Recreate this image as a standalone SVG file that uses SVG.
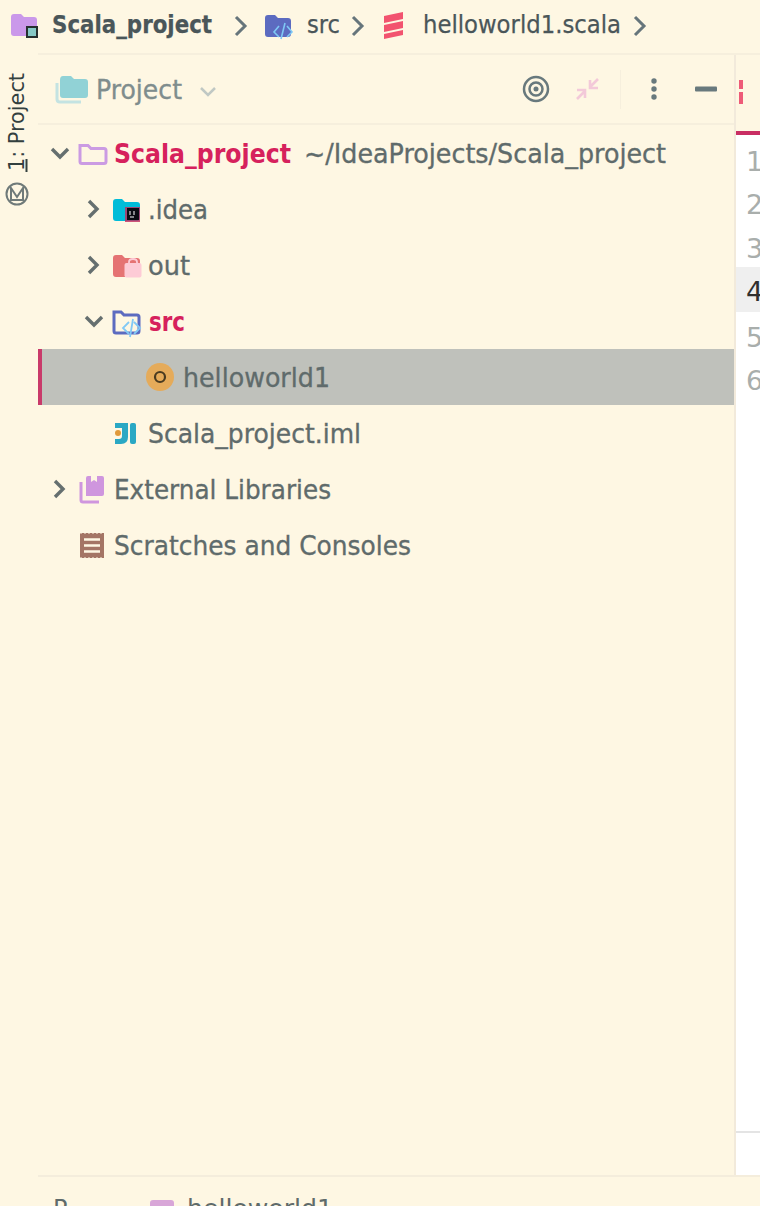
<svg xmlns="http://www.w3.org/2000/svg" width="760" height="1206" viewBox="0 0 760 1206">
<style>
text{font-family:"DejaVu Sans","Open Sans",sans-serif;white-space:pre}
.t{font-size:27px;fill:#5f6b6b;stroke:#5f6b6b;stroke-width:.35}
.b{font-size:24px;fill:#4a5659;stroke:#4a5659;stroke-width:.25}
.r{font-size:27px;fill:#d6215c;font-weight:700}
.ln{font-size:27px;fill:#a9aeac}
.c{fill:none;stroke:#656f6f;stroke-width:3.4}
.bc{fill:none;stroke:#66757b;stroke-width:3}
</style>
<rect width="760" height="1206" fill="#fef7e3"/>
<g id="editor">
<rect x="735" y="54" width="25" height="1122" fill="#fef7e3"/>
<rect x="736" y="134" width="24" height="1042" fill="#ffffff"/>
<rect x="736" y="267" width="24" height="45" fill="#efefef"/>
<rect x="736" y="131" width="24" height="4" fill="#c92e63"/>
<rect x="736" y="1131" width="24" height="2" fill="#e4e4e4"/>
<rect x="734" y="54" width="2" height="1122" fill="#f2eadb"/>
<rect x="739" y="80" width="4" height="9" fill="#ee5b78"/><rect x="739" y="92" width="4" height="12" fill="#ee5b78"/>
<text class="ln" x="746" y="171">1</text><text class="ln" x="746" y="214">2</text><text class="ln" x="746" y="258">3</text><text x="746" y="301" style="font-size:27px;fill:#2f2f2f">4</text><text class="ln" x="746" y="347">5</text><text class="ln" x="746" y="390">6</text>
</g>
<g id="dividers">
<rect x="38" y="53" width="722" height="2" fill="#f6efdd"/>
<rect x="38" y="123" width="696" height="2" fill="#f6efdd"/>
<rect x="38" y="1175" width="722" height="2" fill="#f4eddc"/>
<rect x="620" y="70" width="1" height="39" fill="#f6efdd"/>
</g>
<g id="breadcrumb">
<path d="M11 17q0-3 3-3h7l3 3h10q3 0 3 3v13q0 3-3 3H14q-3 0-3-3z" fill="#c792ea" opacity=".95"/>
<rect x="27" y="27" width="10" height="10" fill="#86c9c6" stroke="#26302f" stroke-width="2"/>
<text class="b" x="52" y="33" font-weight="700" textLength="160" lengthAdjust="spacingAndGlyphs">Scala_project</text>
<path class="bc" d="M236 17l9 9-9 9"/>
<path d="M265 18q0-3 3-3h7l3 3h10q3 0 3 3v13q0 3-3 3h-20q-3 0-3-3z" fill="#5c6bc0"/>
<path d="M279 26l-5 6 5 5M287 26l5 6-5 5M285 23l-4 16" fill="none" stroke="#7ec8f5" stroke-width="1.600"/>
<text class="b" x="307" y="33" textLength="33" lengthAdjust="spacingAndGlyphs">src</text>
<path class="bc" d="M353 17l9 9-9 9"/>
<path d="M384 16l19-4v7l-19 4zM384 25l19-4v7l-19 4zM384 34l19-4v5l-19 4z" fill="#f2536f"/>
<text class="b" x="423" y="33" textLength="198" lengthAdjust="spacingAndGlyphs">helloworld1.scala</text>
<path class="bc" d="M635 17l9 9-9 9"/>
</g>
<g id="sidebar-tab">
<text x="24" y="171" transform="rotate(-90 24 171)" style="font-size:21px;fill:#33403f" textLength="98" lengthAdjust="spacingAndGlyphs">1: Project</text>
<rect x="25.500" y="159" width="2" height="13" fill="#33403f"/>
<circle cx="17" cy="194" r="10.500" fill="none" stroke="#6f7a79" stroke-width="2"/>
<path d="M11 200v-12l6 9 6-9v12M10 200h14" fill="none" stroke="#6f7a79" stroke-width="2"/>
</g>
<g id="project-header">
<path d="M57 83v16q0 3 3 3h21" fill="none" stroke="#c4e3e2" stroke-width="3"/>
<path d="M60 80q0-4 3-4h8l3 3h11q3 0 3 3v13q0 3-3 3H63q-3 0-3-3z" fill="#91d2d6"/>
<text x="96" y="99" style="font-size:27px;fill:#7f8d8d;stroke:#7f8d8d;stroke-width:.35" textLength="86" lengthAdjust="spacingAndGlyphs">Project</text>
<path d="M201 88l7 7 7-7" fill="none" stroke="#c0c8c4" stroke-width="2.500"/>
<circle cx="536" cy="89" r="12" fill="none" stroke="#68797d" stroke-width="2.500"/>
<circle cx="536" cy="89" r="6.500" fill="none" stroke="#68797d" stroke-width="2.500"/>
<circle cx="536" cy="89" r="2.500" fill="#68797d"/>
<path d="M598 79l-8 8M590 80v8h8M577 99l8-8M585 98v-8h-8" fill="none" stroke="#f3c9d9" stroke-width="2.600"/>
<circle cx="654" cy="81" r="2.700" fill="#68797d"/><circle cx="654" cy="89" r="2.700" fill="#68797d"/><circle cx="654" cy="97" r="2.700" fill="#68797d"/>
<rect x="695" y="86.500" width="22" height="5" rx="1" fill="#68797d"/>
</g>
<g id="selection">
<rect x="38" y="349" width="696" height="56" fill="#bfc1bb"/>
<rect x="38" y="349" width="4" height="56" fill="#c93a6a"/>
</g>
<g id="node-root">
<path class="c" d="M52 149l8 8 8-8"/>
<path d="M80 145.500h8l3 3h13q2 0 2 2v11q0 2-2 2H82q-2 0-2-2z" fill="none" stroke="#cb9be3" stroke-width="3"/>
<text class="r" x="114" y="163" textLength="177" lengthAdjust="spacingAndGlyphs">Scala_project</text>
<text class="t" x="304" y="163" textLength="362" lengthAdjust="spacingAndGlyphs">~/IdeaProjects/Scala_project</text>
</g>
<g id="node-idea">
<path class="c" d="M89 201l8 8-8 8"/>
<path d="M113 202q0-3 3-3h6l3 3h12q3 0 3 3v13q0 3-3 3h-21q-3 0-3-3z" fill="#00bcd8"/>
<rect x="125" y="207" width="15" height="15" fill="#c22a5c" opacity=".8"/>
<rect x="127" y="208" width="12" height="12" fill="#0b0b12"/>
<path d="M130 211v4M134 211v4M130 217h4" stroke="#fff" stroke-width="1"/>
<text class="t" x="148" y="219" textLength="60" lengthAdjust="spacingAndGlyphs">.idea</text>
</g>
<g id="node-out">
<path class="c" d="M89 257l8 8-8 8"/>
<path d="M113 258q0-3 3-3h6l3 3h12q3 0 3 3v13q0 3-3 3h-21q-3 0-3-3z" fill="#e57373"/>
<rect x="124.500" y="263" width="17" height="14.500" rx="2" fill="#fdcbd6"/>
<path d="M129 264v-2q0-3 4-3t4 3v2" fill="none" stroke="#fdcbd6" stroke-width="1.800"/>
<text class="t" x="148" y="275" textLength="42" lengthAdjust="spacingAndGlyphs">out</text>
</g>
<g id="node-src">
<path class="c" d="M86 317l8 8 8-8"/>
<path d="M114 312h7l3 3h13q2 0 2 2v14q0 2-2 2h-21q-2 0-2-2z" fill="none" stroke="#5c6bc0" stroke-width="3"/>
<path d="M129 322l-6 6 6 6M134 322l6 6-6 6M133 319l-3 18" fill="none" stroke="#82c9f5" stroke-width="1.800"/>
<text class="r" x="149" y="331" textLength="36" lengthAdjust="spacingAndGlyphs">src</text>
</g>
<g id="node-helloworld1">
<circle cx="160" cy="377" r="14" fill="#e5ab5a"/>
<circle cx="160" cy="377" r="5" fill="none" stroke="#4a3b20" stroke-width="2.200"/>
<text class="t" x="183" y="387" textLength="147" lengthAdjust="spacingAndGlyphs">helloworld1</text>
</g>
<g id="node-iml">
<path d="M115 423h13v14q0 7-7 7h-6v-5h4q3 0 3-3v-8h-7z" fill="#2aa8c4"/>
<rect x="130" y="423" width="6" height="21" rx="2" fill="#2aa8c4"/>
<circle cx="118" cy="433" r="3" fill="#e09a3b"/>
<text class="t" x="148" y="443" textLength="213" lengthAdjust="spacingAndGlyphs">Scala_project.iml</text>
</g>
<g id="node-libraries">
<path class="c" d="M55 481l8 8-8 8"/>
<path d="M81 482v18q0 2 2 2h16" fill="none" stroke="#cf96de" stroke-width="3"/>
<path d="M86 478q0-2 2-2h3v6l3-2 3 2v-6h5q2 0 2 2v16q0 2-2 2H86z" fill="#cf96de"/>
<text class="t" x="114" y="499" textLength="217" lengthAdjust="spacingAndGlyphs">External Libraries</text>
</g>
<g id="node-scratches">
<rect x="80" y="533" width="24" height="25" fill="#a47565"/>
<path d="M80 533h24M80 558h24" stroke="#fef7e3" stroke-width="1" stroke-dasharray="2 2"/>
<path d="M84 539.500h16M84 545.500h16M84 551.500h16" stroke="#fef7e3" stroke-width="2.400"/>
<text class="t" x="114" y="555" textLength="297" lengthAdjust="spacingAndGlyphs">Scratches and Consoles</text>
</g>
<g id="bottom-tab">
<text x="53" y="1217" style="font-size:24px;fill:#5f6b6b">P</text>
<rect x="150" y="1200" width="24" height="12" rx="3" fill="#d8a6d8"/>
<text x="187" y="1217" style="font-size:24px;fill:#5f6b6b" textLength="146" lengthAdjust="spacingAndGlyphs">helloworld1</text>
</g>
</svg>
